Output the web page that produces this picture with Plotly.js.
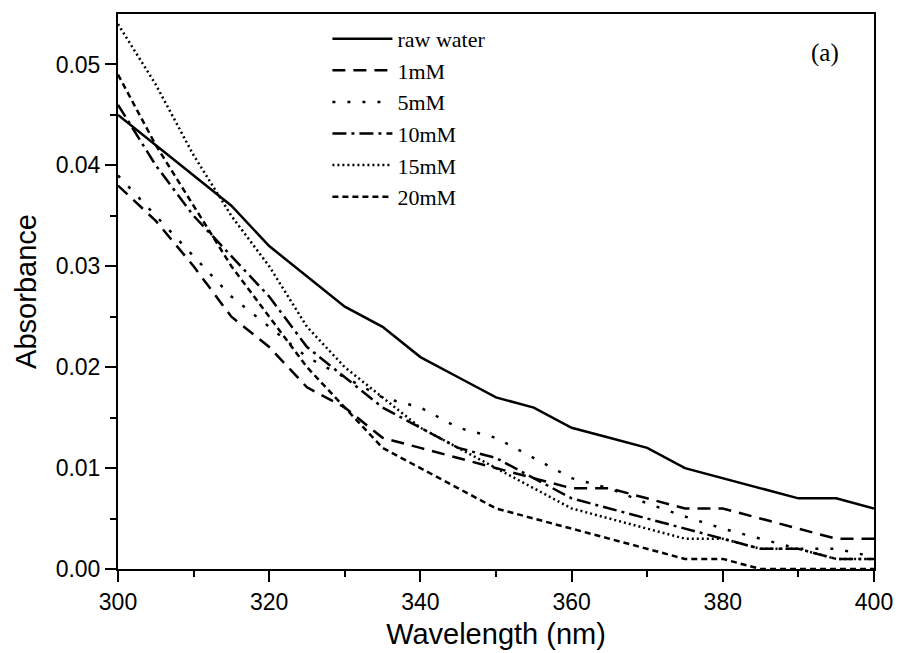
<!DOCTYPE html>
<html>
<head>
<meta charset="utf-8">
<script src="https://cdn.plot.ly/plotly-3.0.1.min.js"></script>
<style>html,body{margin:0;padding:0;background:#fff;}#chart{width:899px;height:653px;}</style>
</head>
<body>
<div id="chart"></div>
<script>
var wavelength = [300,305,310,315,320,325,330,335,340,345,350,355,360,365,370,375,380,385,390,395,400];
var rawWater = [0.045,0.042,0.039,0.036,0.032,0.029,0.026,0.024,0.021,0.019,0.017,0.016,0.014,0.013,0.012,0.010,0.009,0.008,0.007,0.007,0.006];
var mM1  = [0.038,0.0345,0.030,0.025,0.022,0.018,0.016,0.013,0.012,0.011,0.010,0.009,0.008,0.008,0.007,0.006,0.006,0.005,0.004,0.003,0.003];
var mM5  = [0.039,0.035,0.031,0.027,0.024,0.021,0.019,0.017,0.016,0.014,0.013,0.011,0.009,0.008,0.0065,0.0052,0.004,0.003,0.002,0.002,0.0012];
var mM10 = [0.046,0.040,0.035,0.031,0.027,0.022,0.019,0.016,0.014,0.012,0.011,0.009,0.007,0.006,0.005,0.004,0.003,0.002,0.002,0.001,0.001];
var mM15 = [0.054,0.048,0.041,0.035,0.030,0.024,0.020,0.017,0.014,0.012,0.010,0.008,0.006,0.005,0.004,0.003,0.003,0.002,0.002,0.001,0.001];
var mM20 = [0.049,0.042,0.036,0.030,0.025,0.020,0.016,0.012,0.010,0.008,0.006,0.005,0.004,0.003,0.002,0.001,0.001,0,0,0,0];
var seriesNames = ['raw water','1mM','5mM','10mM','15mM','20mM'];
var xTickVals = [300,320,340,360,380,400];
var yTickVals = [0,0.01,0.02,0.03,0.04,0.05];

var allSeries = [rawWater, mM1, mM5, mM10, mM15, mM20];
var dashes = ['solid','13px,8px','3px,12px','14px,5px,3px,5px','2px,3px','6px,4px'];
var traces = allSeries.map(function(s,i){
  return {x: wavelength, y: s, name: seriesNames[i], mode: 'lines', type: 'scatter',
          line: {color: '#000', width: 2.5, dash: dashes[i]}};
});

var layout = {
  width: 899, height: 653,
  margin: {l: 118, r: 25, t: 14, b: 84},
  paper_bgcolor: '#fff', plot_bgcolor: '#fff',
  showlegend: true,
  legend: {x: 0.277, y: 0.993, xanchor: 'left', yanchor: 'top', bgcolor: 'rgba(0,0,0,0)',
           font: {family: 'Liberation Serif, Times New Roman, serif', size: 22, color: '#000'},
           itemwidth: 60, tracegroupgap: 0},
  xaxis: {range: [300, 400], tickvals: xTickVals, ticks: 'outside', ticklen: 11, tickwidth: 2, tickcolor: '#000',
          minor: {dtick: 10, ticks: 'outside', ticklen: 6, tickwidth: 2, tickcolor: '#000', showgrid: false},
          showline: true, linewidth: 2, linecolor: '#000', mirror: true, showgrid: false, zeroline: false,
          tickfont: {family: 'Liberation Sans, Arial, sans-serif', size: 23, color: '#000'},
          title: {text: 'Wavelength (nm)', font: {family: 'Liberation Sans, Arial, sans-serif', size: 29, color: '#000'}, standoff: 10}},
  yaxis: {range: [0, 0.055], tickvals: yTickVals, tickformat: '.2f', ticks: 'outside', ticklen: 11, tickwidth: 2, tickcolor: '#000',
          minor: {tickvals: [0.005,0.015,0.025,0.035,0.045], ticks: 'outside', ticklen: 6, tickwidth: 2, tickcolor: '#000', showgrid: false},
          showline: true, linewidth: 2, linecolor: '#000', mirror: true, showgrid: false, zeroline: false,
          tickfont: {family: 'Liberation Sans, Arial, sans-serif', size: 23, color: '#000'},
          title: {text: 'Absorbance', font: {family: 'Liberation Sans, Arial, sans-serif', size: 29, color: '#000'}, standoff: 10}},
  annotations: [{xref: 'paper', yref: 'paper', x: 0.935, y: 0.93, xanchor: 'center', yanchor: 'middle',
                 text: '(a)', showarrow: false,
                 font: {family: 'Liberation Serif, Times New Roman, serif', size: 25, color: '#000'}}]
};

Plotly.newPlot('chart', traces, layout, {displayModeBar: false, staticPlot: true});
</script>
</body>
</html>
